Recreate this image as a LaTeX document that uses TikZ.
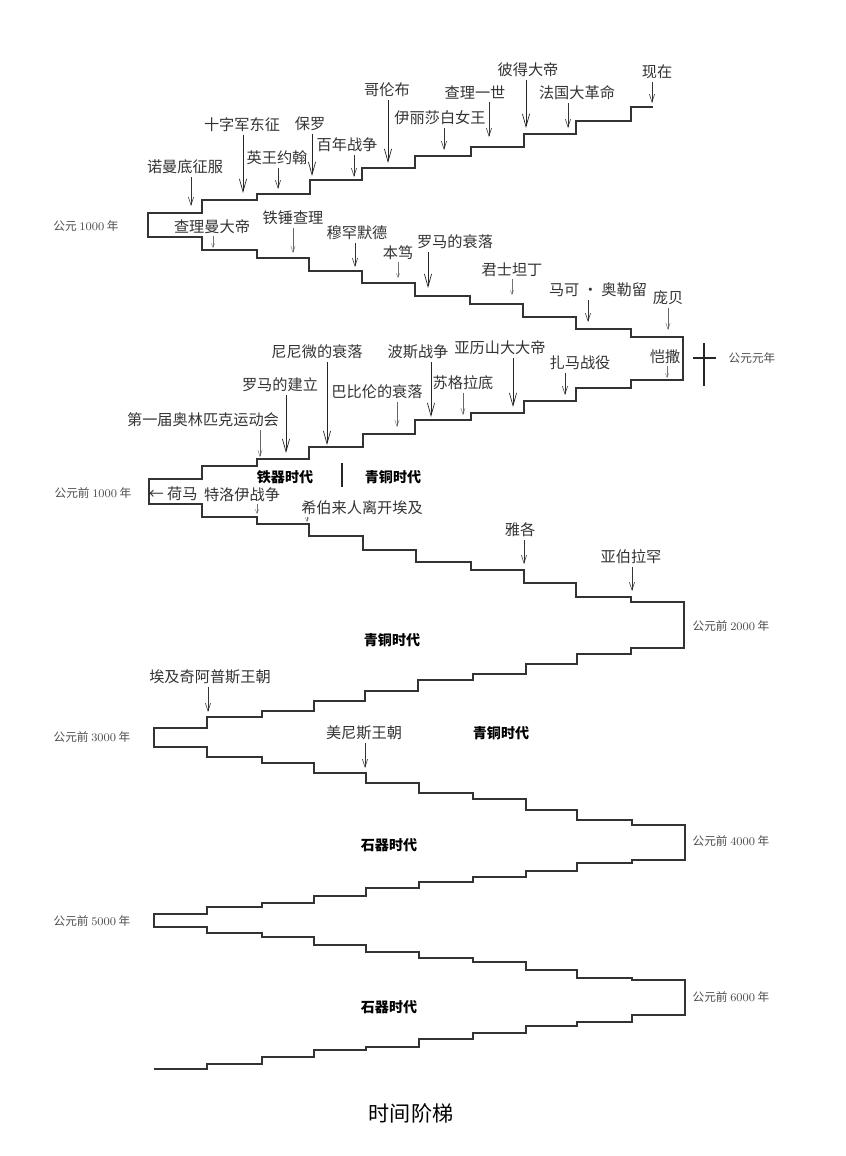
\documentclass[tikz,border=0pt]{standalone}
\usepackage{fontspec}
\newfontfamily\cjk{Noto Sans CJK SC}
\usetikzlibrary{arrows.meta}

\begin{document}
\begin{tikzpicture}[x=0.25mm, y=-0.25mm,
    lbl/.style={font=\cjk\fontsize{10.8}{12}\selectfont, text=black!80, inner sep=0pt},
    yr/.style={font=\cjk\fontsize{8.3}{10}\selectfont, text=black!70, inner sep=0pt},
    age/.style={font=\cjk\bfseries\fontsize{10}{12}\selectfont, inner sep=0pt},
    stair/.style={line width=0.9pt, black!80},
    evbig/.style={-{Straight Barb[length=3.2mm,width=1.8mm]}, line width=0.5pt, black!85, shorten <=2pt},
    ev/.style={-{Straight Barb[length=2mm,width=1.3mm]}, line width=0.4pt, black!80, shorten <=2pt},
    evthin/.style={-{Straight Barb[length=1.6mm,width=1.1mm]}, line width=0.3pt, black!60, shorten <=2pt},
    evsmall/.style={-{Straight Barb[length=1mm,width=0.8mm]}, line width=0.3pt, black!55, shorten <=1pt}
  ]
  \useasboundingbox (0,0) rectangle (845,1156);

  % the ladder, from today down to the stone age
  \draw[stair] (653,107) -| (631,121) -| (576,134) -| (524,147) -| (471,156)
    -| (415,168) -| (362,180) -| (310,194) -| (257,200) -| (202,213) -| (148,237)
    -| (202,250) -| (257,258) -| (309,271) -| (362,283) -| (415,296)
    -| (470,304) -| (523,317) -| (576,329) -| (631,337) -| (683,380)
    -| (631,388) -| (576,401) -| (524,413) -| (471,420) -| (415,434)
    -| (363,447) -| (309,459) -| (257,466) -| (202,479) -| (149,504)
    -| (202,517) -| (257,524) -| (309,536) -| (363,550) -| (416,562)
    -| (471,570) -| (524,583) -| (576,597) -| (631,602) -| (684,648)
    -| (631,654) -| (577,664) -| (526,674) -| (473,680) -| (418,691)
    -| (365,701) -| (314,711) -| (262,717) -| (207,728) -| (154,747)
    -| (207,757) -| (262,763) -| (314,773) -| (366,783) -| (419,793)
    -| (473,799) -| (526,810) -| (577,820) -| (632,825) -| (685,860)
    -| (632,863) -| (577,871) -| (526,877) -| (473,882) -| (419,888)
    -| (366,896) -| (314,903) -| (262,907) -| (207,914) -| (154,927)
    -| (207,933) -| (262,937) -| (314,945) -| (366,952) -| (419,958)
    -| (473,962) -| (526,970) -| (577,978) -| (632,980) -| (685,1015)
    -| (632,1022) -| (577,1026) -| (526,1033) -| (473,1039) -| (419,1047)
    -| (366,1050) -| (314,1057) -| (262,1064) -| (207,1069) -- (154,1069);

  % events with long arrows
  \foreach \n/\lx/\ly/\tx/\ty/\t in {
      crusade/242/125/243/193/十字军东征, paul/310/124/312/176/保罗,
      columbus/387/90/388/163/哥伦布, peter/528/70/526/128/彼得大帝,
      romefall/455/242/428/288/罗马的衰落, alexander/500/348/513/407/亚历山大大帝,
      persia/418/352/431/417/波斯战争, nineveh/317/352/327/445/尼尼微的衰落,
      romefound/280/385/286/453/罗马的建立} {
    \node[lbl] (\n) at (\lx,\ly) {\t};
    \coordinate (\n-t) at (\tx,\ty);
    \draw[evbig] (\n.south -| \n-t) -- (\n-t);
  }
  % events with normal arrows
  \foreach \n/\lx/\ly/\tx/\ty/\t in {
      norman/185/167/191/206/诺曼底征服, john/277/158/278/189/英王约翰,
      hundred/347/145/354/177/百年战争, elizabeth/440/118/444/150/伊丽莎白女王,
      charles/475/92/489/137/查理一世, revolution/577/93/568/128/法国大革命,
      now/657/72/652/103/现在, mohammed/357/233/355/267/穆罕默德,
      marcus/598/290/588/322/马可 · 奥勒留, zama/580/363/565/395/扎马战役,
      jacob/520/530/524/564/雅各, abraham/631/557/632/591/亚伯拉罕,
      cheops/210/677/208/712/埃及奇阿普斯王朝, menes/364/733/365/768/美尼斯王朝} {
    \node[lbl] (\n) at (\lx,\ly) {\t};
    \coordinate (\n-t) at (\tx,\ty);
    \draw[ev] (\n.south -| \n-t) -- (\n-t);
  }
  % thin arrows
  \foreach \n/\lx/\ly/\tx/\ty/\t in {
      martel/293/218/293/253/铁锤查理, pompeii/668/298/668/330/庞贝,
      socrates/463/383/463/415/苏格拉底, babylon/377/392/397/427/巴比伦的衰落,
      olympia/203/420/260/457/第一届奥林匹克运动会} {
    \node[lbl] (\n) at (\lx,\ly) {\t};
    \coordinate (\n-t) at (\tx,\ty);
    \draw[evthin] (\n.south -| \n-t) -- (\n-t);
  }
  % tiny arrows
  \foreach \n/\lx/\ly/\tx/\ty/\t in {
      charlemagne/212/227/213/248/查理曼大帝, benedict/398/253/398/278/本笃,
      constantine/512/270/512/295/君士坦丁, caesar/665/357/667/378/恺撒,
      troy/242/495/257/514/特洛伊战争, hebrews/362/508/307/522/希伯来人离开埃及} {
    \node[lbl] (\n) at (\lx,\ly) {\t};
    \coordinate (\n-t) at (\tx,\ty);
    \draw[evsmall] (\n.south -| \n-t) -- (\n-t);
  }
  \node[lbl] (homer) at (173,494) {← 荷马};

  % ages
  \node[age] (iron) at (285,477) {铁器时代};
  \node[age] (bronze1) at (393,477) {青铜时代};
  \draw[line width=1.2pt, black!85] (342,463) -- (342,487);
  \node[age] (bronze2) at (392,640) {青铜时代};
  \node[age] (bronze3) at (501,733) {青铜时代};
  \node[age] (stone1) at (389,845) {石器时代};
  \node[age] (stone2) at (389,1007) {石器时代};

  % years
  \node[yr] (ad1000) at (86,226) {公元 {\rmfamily 1000} 年};
  \node[yr] (ad0) at (752,358) {公元元年};
  \draw[line width=1pt, black!85] (704,343) -- (704,386) (693,358) -- (716,358);
  \node[yr] (bc1000) at (93,493) {公元前 {\rmfamily 1000} 年};
  \node[yr] (bc2000) at (731,626) {公元前 {\rmfamily 2000} 年};
  \node[yr] (bc3000) at (92,737) {公元前 {\rmfamily 3000} 年};
  \node[yr] (bc4000) at (731,841) {公元前 {\rmfamily 4000} 年};
  \node[yr] (bc5000) at (92,921) {公元前 {\rmfamily 5000} 年};
  \node[yr] (bc6000) at (731,997) {公元前 {\rmfamily 6000} 年};

  \node[font=\cjk\fontsize{15}{18}\selectfont] (title) at (411,1113) {时间阶梯};
\end{tikzpicture}
\end{document}
